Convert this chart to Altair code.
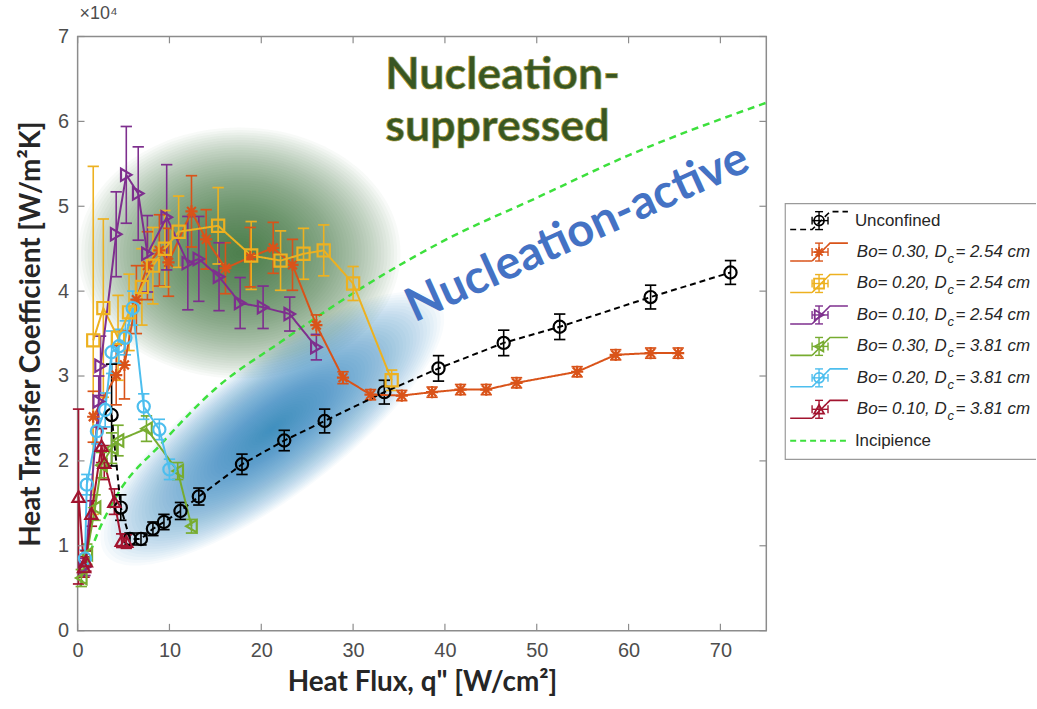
import altair as alt
import pandas as pd

# ---------------- data: heat flux q'' [W/cm^2], HTC in units of 1e4 W/m^2K ----------------
unc_q = [3.7, 4.7, 5.7, 6.9, 8.2, 9.4, 11.2, 13.2, 17.9, 22.5, 26.9, 33.4, 39.3, 46.4, 52.5, 62.4, 71.1]
unc_h = [2.54, 1.45, 1.08, 1.08, 1.20, 1.28, 1.41, 1.58, 1.96, 2.24, 2.47, 2.81, 3.09, 3.39, 3.58, 3.93, 4.22]
unc_e = [0.60, 0.15, 0.07, 0.07, 0.08, 0.09, 0.10, 0.10, 0.12, 0.12, 0.14, 0.14, 0.15, 0.15, 0.15, 0.14, 0.14]

o_q = [1.7, 4.2, 5.1, 6.4, 7.6, 8.9, 9.9, 12.4, 14.0, 16.1, 18.8, 21.3, 23.4, 26.0, 28.9, 31.9, 35.3, 38.6, 41.7, 44.5, 47.8, 54.4, 58.6, 62.4, 65.4]
o_h = [2.52, 3.01, 3.13, 3.90, 4.30, 4.48, 4.34, 4.94, 4.61, 4.27, 4.40, 4.51, 4.31, 3.60, 2.98, 2.78, 2.77, 2.81, 2.84, 2.84, 2.92, 3.05, 3.25, 3.27, 3.27]
o_e = [0.30, 0.35, 0.40, 0.40, 0.40, 0.42, 0.40, 0.42, 0.35, 0.30, 0.35, 0.30, 0.30, 0.12, 0.07, 0.06, 0.06, 0.06, 0.06, 0.06, 0.06, 0.06, 0.06, 0.06, 0.06]

y_q = [1.7, 2.8, 4.4, 5.6, 7.0, 8.2, 9.5, 11.0, 15.3, 18.9, 22.1, 24.6, 26.8, 30.0, 34.2]
y_h = [3.42, 3.80, 3.45, 3.75, 4.05, 4.30, 4.50, 4.70, 4.77, 4.42, 4.36, 4.44, 4.48, 4.09, 2.95]
y_e = [2.05, 1.05, 0.50, 0.45, 0.45, 0.45, 0.45, 0.42, 0.45, 0.40, 0.35, 0.30, 0.30, 0.20, 0.12]

p_q = [0.8, 2.3, 2.5, 4.2, 5.3, 6.6, 7.6, 9.7, 12.0, 13.2, 15.4, 17.7, 20.2, 23.1, 26.0]
p_h = [0.75, 2.70, 3.12, 4.67, 5.37, 5.15, 4.44, 4.87, 4.33, 4.38, 4.17, 3.86, 3.81, 3.73, 3.34]
p_e = [0.10, 0.30, 0.35, 0.50, 0.57, 0.55, 0.45, 0.62, 0.55, 0.50, 0.40, 0.30, 0.25, 0.20, 0.15]

g_q = [0.4, 1.0, 1.9, 2.6, 3.7, 4.4, 7.5, 10.9, 12.4]
g_h = [0.62, 0.90, 1.45, 1.95, 2.15, 2.24, 2.38, 1.88, 1.23]
g_e = [0.10, 0.12, 0.15, 0.15, 0.18, 0.18, 0.15, 0.10, 0.08]

c_q = [0.8, 1.0, 2.1, 3.0, 3.7, 4.5, 5.2, 6.0, 7.2, 8.9, 10.0]
c_h = [0.85, 1.72, 2.35, 2.60, 3.28, 3.35, 3.45, 3.80, 2.64, 2.37, 1.90]
c_e = [0.10, 0.12, 0.15, 0.20, 0.25, 0.20, 0.20, 0.20, 0.15, 0.12, 0.12]

r_q = [0.1, 0.7, 0.9, 1.5, 2.6, 2.9, 4.0, 4.8, 5.3]
r_h = [1.58, 0.75, 0.82, 1.38, 2.18, 1.98, 1.52, 1.06, 1.05]
r_e = [1.03, 0.12, 0.12, 0.15, 0.20, 0.20, 0.15, 0.08, 0.08]

inc_q = [0.3, 1.0, 2.0, 4.2, 9.1, 15.0, 22.1, 31.1, 40.0, 50.0, 60.0, 75.0]
inc_h = [0.52, 0.80, 1.10, 1.58, 2.20, 2.85, 3.40, 4.05, 4.60, 5.10, 5.60, 6.22]

blob_q = [17.6, 21.2]
blob_h = [4.45, 2.38]

x_ticks = [0, 10, 20, 30, 40, 50, 60, 70]
y_ticks = [0, 1, 2, 3, 4, 5, 6, 7]

names = ["Unconfined", "o254", "y254", "p254", "g381", "c381", "r381"]
colors = ["#000000", "#D95319", "#EDB120", "#7E2F8E", "#77AC30", "#4DBEEE", "#A2142F"]
asterisk = "M-1,0L1,0M0,-1L0,1M-0.72,-0.72L0.72,0.72M-0.72,0.72L0.72,-0.72"
shapes = ["circle", asterisk, "square", "triangle-right", "triangle-left", "circle", "triangle-up"]
dashes = [[6, 4]] + [[1, 0]] * 6
bo_txt = ["0.30", "0.20", "0.10", "0.30", "0.20", "0.10"]
dc_txt = ["2.54", "2.54", "2.54", "3.81", "3.81", "3.81"]

series = [(names[0], unc_q, unc_h, unc_e), (names[1], o_q, o_h, o_e), (names[2], y_q, y_h, y_e),
          (names[3], p_q, p_h, p_e), (names[4], g_q, g_h, g_e), (names[5], c_q, c_h, c_e),
          (names[6], r_q, r_h, r_e)]

rows = []
for nm, qs, hs, es in series:
    for i, (q, h, e) in enumerate(zip(qs, hs, es)):
        rows.append(dict(series=nm, idx=i, q=q, h=h, lo=h - e, hi=h + e))
df = pd.DataFrame(rows)
caps = pd.concat([df[["series", "q", "lo"]].rename(columns={"lo": "h"}),
                  df[["series", "q", "hi"]].rename(columns={"hi": "h"})])

# ---------------- scales & axes ----------------
XS = alt.Scale(domain=[0, 75], nice=False, zero=False)
YS = alt.Scale(domain=[0, 7], nice=False, zero=False)
xax = alt.Axis(values=x_ticks, title='Heat Flux, q" [W/cm²]', grid=False, ticks=False, domain=False,
               labelFont="Liberation Sans", labelFontSize=20, labelColor="#4d4d4d", labelPadding=10,
               titleFont="Lato", titleFontSize=28, titleFontWeight="bold", titleColor="#262626",
               titlePadding=8, labelFlush=False)
yax = alt.Axis(values=y_ticks, title="Heat Transfer Coefficient [W/m²K]", grid=False, ticks=False,
               domain=False, labelFont="Liberation Sans", labelFontSize=20, labelColor="#4d4d4d",
               labelPadding=9, titleFont="Lato", titleFontSize=28, titleFontWeight="bold",
               titleColor="#262626", titlePadding=12, labelFlush=False)


def X(f):
    return alt.X(f, type="quantitative", scale=XS, axis=xax)


def Y(f):
    return alt.Y(f, type="quantitative", scale=YS, axis=yax)


col = alt.Color("series:N", scale=alt.Scale(domain=names, range=colors), legend=None)


def ellipse_path(r):
    k = 0.5523
    return (f"M1,0C1,{k*r:.4f} {k},{r:.4f} 0,{r:.4f}C{-k},{r:.4f} -1,{k*r:.4f} -1,0"
            f"C-1,{-k*r:.4f} {-k},{-r:.4f} 0,{-r:.4f}C{k},{-r:.4f} 1,{-k*r:.4f} 1,0Z")


def blob(q, h, color, rx, ry, angle, n=50, a=0.034):
    d = pd.DataFrame({"q": [q] * n, "h": [h] * n, "lvl": list(range(n, 0, -1))})
    return alt.Chart(d).mark_point(shape=ellipse_path(ry / rx), filled=True, color=color, opacity=a,
                                   strokeWidth=0, angle=angle).encode(
        x=X("q"), y=Y("h"),
        size=alt.Size("lvl:Q", scale=alt.Scale(type="pow", exponent=2, domain=[0, n],
                                               range=[0, (2 * rx) ** 2]), legend=None))


green_blob = blob(blob_q[0], blob_h[0], "#3f6f2c", 162, 126, 0)
blue_blob = blob(blob_q[1], blob_h[1], "#2f73c4", 210, 68, 323, a=0.03)

inc = alt.Chart(pd.DataFrame({"q": inc_q, "h": inc_h})).mark_line(
    color="#3de03d", strokeWidth=2.5, strokeDash=[7, 5], interpolate="monotone").encode(x=X("q"), y=Y("h"))

err = alt.Chart(df).mark_rule(strokeWidth=1.6).encode(x=X("q"), y=Y("lo"), y2="hi", color=col)
capm = alt.Chart(caps).mark_point(shape="stroke", size=130, strokeWidth=1.7, opacity=1).encode(
    x=X("q"), y=Y("h"), color=col)
lines = alt.Chart(df).mark_line(strokeWidth=2).encode(
    x=X("q"), y=Y("h"), color=col, order="idx:Q",
    strokeDash=alt.StrokeDash("series:N", scale=alt.Scale(domain=names, range=dashes), legend=None))
marks = alt.Chart(df).mark_point(filled=False, size=150, strokeWidth=2.2, opacity=1).encode(
    x=X("q"), y=Y("h"), color=col,
    shape=alt.Shape("series:N", scale=alt.Scale(domain=names, range=shapes), legend=None))

sup = alt.Chart(pd.DataFrame({"q": [33.5, 33.5], "h": [6.38, 5.77], "t": ["Nucleation-", "suppressed"]})
                ).mark_text(font="Lato", fontWeight="bold", fontSize=45, color="#375623", align="left",
                            baseline="alphabetic", stroke="#a39a3c", strokeWidth=0.7).encode(
    x=X("q"), y=Y("h"), text="t:N")
act = alt.Chart(pd.DataFrame({"q": [36.7], "h": [3.63], "t": ["Nucleation-active"]})
                ).mark_text(font="Lato", fontWeight="bold", fontSize=47, color="#4472C4", align="left",
                            baseline="alphabetic", angle=335.6).encode(x=X("q"), y=Y("h"), text="t:N")

tick_style = dict(color="#8c8c8c", strokeWidth=1.2)
tb = alt.Chart(pd.DataFrame({"q": x_ticks, "h": [0] * 8, "h2": [0.08] * 8})).mark_rule(**tick_style).encode(
    x=X("q"), y=Y("h"), y2="h2")
tt = alt.Chart(pd.DataFrame({"q": x_ticks, "h": [7] * 8, "h2": [6.92] * 8})).mark_rule(**tick_style).encode(
    x=X("q"), y=Y("h"), y2="h2")
tl = alt.Chart(pd.DataFrame({"h": y_ticks, "q": [0] * 8, "q2": [0.75] * 8})).mark_rule(**tick_style).encode(
    x=X("q"), x2="q2", y=Y("h"))
tr = alt.Chart(pd.DataFrame({"h": y_ticks, "q": [75] * 8, "q2": [74.25] * 8})).mark_rule(**tick_style).encode(
    x=X("q"), x2="q2", y=Y("h"))

main = alt.layer(green_blob, blue_blob, inc, err, capm, lines, marks, sup, act, tb, tt, tl, tr).resolve_scale(
    size="independent").properties(
    width=692, height=597,
    title=alt.TitleParams(text="×10⁴", anchor="start", frame="group", fontSize=18, font="Liberation Sans",
                          fontWeight="normal", color="#4d4d4d", offset=4, dx=2),
    view=alt.ViewBackground(stroke="#8c8c8c", strokeWidth=1.5))

# ---------------- legend panel ----------------
LW, LH = 253, 597
LXS = alt.Scale(domain=[0, LW], nice=False, zero=False)
LYS = alt.Scale(domain=[0, LH], reverse=True, nice=False, zero=False)


def lx(f):
    return alt.X(f, type="quantitative", scale=LXS, axis=None)


def ly(f):
    return alt.Y(f, type="quantitative", scale=LYS, axis=None)


row_y = [185 + 31.6 * i for i in range(8)]
gdx = [6, 28, 46, 64]
gdy = [9, 9, -9, -9]
gl, gm, ge = [], [], []
for i, nm in enumerate(names):
    yy = row_y[i]
    for j in range(4):
        gl.append(dict(series=nm, row=i, idx=j, x=gdx[j], y=yy + gdy[j]))
    gm.append(dict(series=nm, x=35, y=yy))
    ge.append(dict(series=nm, x=35, x2=35, y=yy - 9, y2=yy + 9))
    ge.append(dict(series=nm, x=28, x2=44, y=yy, y2=yy))
    ge.append(dict(series=nm, x=31, x2=39, y=yy - 9, y2=yy - 9))
    ge.append(dict(series=nm, x=31, x2=39, y=yy + 9, y2=yy + 9))
    ge.append(dict(series=nm, x=28, x2=28, y=yy - 4, y2=yy + 4))
    ge.append(dict(series=nm, x=44, x2=44, y=yy - 4, y2=yy + 4))
gl, gm, ge = pd.DataFrame(gl), pd.DataFrame(gm), pd.DataFrame(ge)

box = alt.Chart(pd.DataFrame({"x": [1], "x2": [320], "y": [168], "y2": [425]})).mark_rect(
    fill="white", stroke="#9a9a9a", strokeWidth=1.3, clip=True).encode(
    x=lx("x"), x2="x2", y=ly("y"), y2="y2")
lg_line = alt.Chart(gl).mark_line(strokeWidth=1.6).encode(
    x=lx("x"), y=ly("y"), color=col, detail="row:N", order="idx:Q",
    strokeDash=alt.StrokeDash("series:N", scale=alt.Scale(domain=names, range=[[4, 3]] + [[1, 0]] * 6), legend=None))
lg_err = alt.Chart(ge).mark_rule(strokeWidth=1.4).encode(x=lx("x"), x2="x2", y=ly("y"), y2="y2", color=col)
lg_mk = alt.Chart(gm).mark_point(filled=False, size=100, strokeWidth=1.8, opacity=1).encode(
    x=lx("x"), y=ly("y"), color=col,
    shape=alt.Shape("series:N", scale=alt.Scale(domain=names, range=shapes), legend=None))
lg_inc = alt.Chart(pd.DataFrame({"x": [6], "x2": [64], "y": [row_y[7]]})).mark_rule(
    color="#3de03d", strokeWidth=2.2, strokeDash=[6, 4]).encode(x=lx("x"), x2="x2", y=ly("y"))

txt_style = dict(font="Liberation Sans", fontSize=17, color="#262626", align="left", baseline="middle")
plain = pd.DataFrame({"x": [71, 71], "y": [row_y[0], row_y[7]], "t": ["Unconfined", "Incipience"]})
lg_plain = alt.Chart(plain).mark_text(**txt_style).encode(x=lx("x"), y=ly("y"), text="t:N")
pa = pd.DataFrame({"x": [73] * 6, "y": row_y[1:7], "t": [f"Bo= {b}, D" for b in bo_txt]})
pc = pd.DataFrame({"x": [164] * 6, "y": [v + 7 for v in row_y[1:7]], "t": ["c"] * 6})
pb = pd.DataFrame({"x": [172] * 6, "y": row_y[1:7], "t": [f"= {d} cm" for d in dc_txt]})
lg_a = alt.Chart(pa).mark_text(fontStyle="italic", **txt_style).encode(x=lx("x"), y=ly("y"), text="t:N")
lg_c = alt.Chart(pc).mark_text(fontStyle="italic", **{**txt_style, "fontSize": 13}).encode(
    x=lx("x"), y=ly("y"), text="t:N")
lg_b = alt.Chart(pb).mark_text(fontStyle="italic", **txt_style).encode(x=lx("x"), y=ly("y"), text="t:N")

legend = alt.layer(box, lg_line, lg_err, lg_mk, lg_inc, lg_plain, lg_a, lg_c, lg_b).properties(
    width=LW, height=LH, view=alt.ViewBackground(stroke="transparent"))

chart = alt.hconcat(main, legend, spacing=11).properties(
    padding={"left": 17, "top": 2, "right": 0, "bottom": 0}, background="white"
).configure_view(stroke="transparent")

chart.save("out.html", embed_options={"renderer": "svg", "actions": False})
